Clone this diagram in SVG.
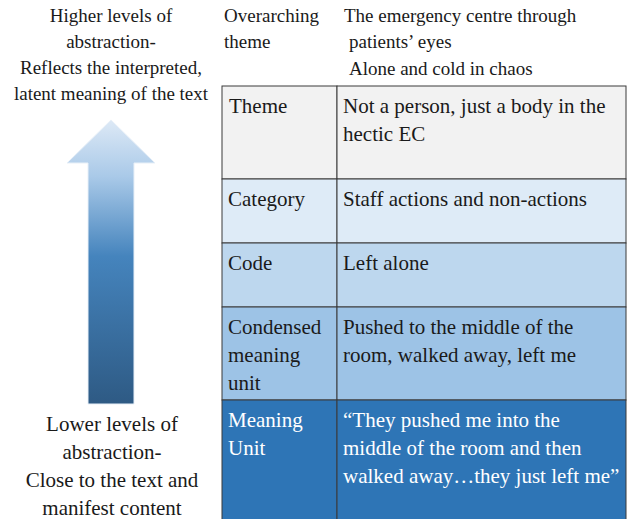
<svg xmlns="http://www.w3.org/2000/svg" width="627" height="519" viewBox="0 0 627 519">
<style>
text{font-family:"Liberation Serif","Times New Roman",serif;fill:#1a1a1a}
.s19{font-size:19px}
.s21{font-size:21px}
.w{fill:#ffffff}
.cell{stroke:#3a3a3a;stroke-width:1}
.mid{text-anchor:middle}
</style>
<defs>
<linearGradient id="ag" x1="0" y1="0" x2="0" y2="1">
<stop offset="0" stop-color="#dde9f6"/>
<stop offset="0.2" stop-color="#a9c9e8"/>
<stop offset="0.48" stop-color="#4584bd"/>
<stop offset="1" stop-color="#2e5a84"/>
</linearGradient>
</defs>
<rect width="627" height="519" fill="#ffffff"/>
<g id="arrow">
<polygon points="111,120 155,163 134,163 134,404 88,404 88,163 67,163" fill="url(#ag)" stroke="#e8f0f8" stroke-width="1"/>
</g>
<g id="top-label">
<text class="s19 mid" x="111" y="22">Higher levels of</text>
<text class="s19 mid" x="111" y="48">abstraction-</text>
<text class="s19 mid" x="111" y="74">Reflects the interpreted,</text>
<text class="s19 mid" x="111" y="100">latent meaning of the text</text>
</g>
<g id="bottom-label">
<text class="s21 mid" x="112" y="431">Lower levels of</text>
<text class="s21 mid" x="112" y="459">abstraction-</text>
<text class="s21 mid" x="112" y="487">Close to the text and</text>
<text class="s21 mid" x="112" y="515">manifest content</text>
</g>
<g id="header">
<text class="s19" x="224" y="22">Overarching</text>
<text class="s19" x="224" y="48">theme</text>
<text class="s19" x="344" y="22">The emergency centre through</text>
<text class="s19" x="349" y="48">patients’ eyes</text>
<text class="s19" x="349" y="75">Alone and cold in chaos</text>
</g>
<g id="row-theme">
<rect class="cell" x="222" y="86" width="115" height="93" fill="#f2f2f2"/>
<rect class="cell" x="337" y="86" width="289" height="93" fill="#f2f2f2"/>
<text class="s21" x="229" y="113">Theme</text>
<text class="s21" x="343" y="113">Not a person, just a body in the</text>
<text class="s21" x="343" y="141">hectic EC</text>
</g>
<g id="row-category">
<rect class="cell" x="222" y="179" width="115" height="64" fill="#deebf7"/>
<rect class="cell" x="337" y="179" width="289" height="64" fill="#deebf7"/>
<text class="s21" x="228" y="206">Category</text>
<text class="s21" x="343" y="206">Staff actions and non-actions</text>
</g>
<g id="row-code">
<rect class="cell" x="222" y="243" width="115" height="64" fill="#bdd7ee"/>
<rect class="cell" x="337" y="243" width="289" height="64" fill="#bdd7ee"/>
<text class="s21" x="228" y="270">Code</text>
<text class="s21" x="343" y="270">Left alone</text>
</g>
<g id="row-condensed">
<rect class="cell" x="222" y="307" width="115" height="93" fill="#9dc3e6"/>
<rect class="cell" x="337" y="307" width="289" height="93" fill="#9dc3e6"/>
<text class="s21" x="228" y="334">Condensed</text>
<text class="s21" x="228" y="362">meaning</text>
<text class="s21" x="228" y="390">unit</text>
<text class="s21" x="343" y="334">Pushed to the middle of the</text>
<text class="s21" x="343" y="362">room, walked away, left me</text>
</g>
<g id="row-meaning">
<rect class="cell" x="222" y="400" width="115" height="120" fill="#2e75b6"/>
<rect class="cell" x="337" y="400" width="289" height="120" fill="#2e75b6"/>
<text class="s21 w" x="228" y="427">Meaning</text>
<text class="s21 w" x="228" y="455">Unit</text>
<text class="s21 w" x="343" y="427">“They pushed me into the</text>
<text class="s21 w" x="343" y="455">middle of the room and then</text>
<text class="s21 w" x="343" y="483">walked away…they just left me”</text>
</g>
<g id="connectors"></g>
</svg>
